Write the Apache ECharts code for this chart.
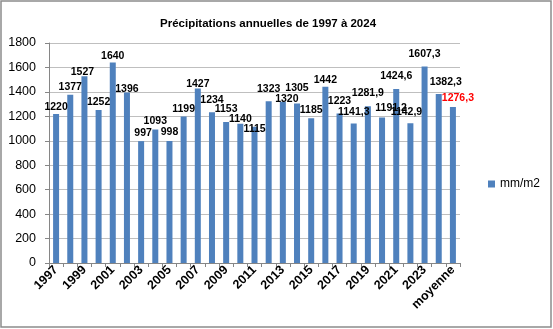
<!DOCTYPE html>
<html>
<head>
<meta charset="utf-8">
<script src="https://cdn.jsdelivr.net/npm/echarts@6/dist/echarts.min.js"></script>
<style>html,body{margin:0;padding:0;background:#fff}#c{width:553px;height:329px}</style>
</head>
<body>
<div id="c"></div>
<script>
var categories = ['1997','1998','1999','2000','2001','2002','2003','2004','2005','2006','2007','2008','2009','2010','2011','2012','2013','2014','2015','2016','2017','2018','2019','2020','2021','2022','2023','2024','moyenne'];
var values = [1220,1377,1527,1252,1640,1396,997,1093,998,1199,1427,1234,1153,1140,1115,1323,1320,1305,1185,1442,1223,1141.3,1281.9,1191.2,1424.6,1142.9,1607.3,1382.3,1276.3];
var yTicks = [0,200,400,600,800,1000,1200,1400,1600,1800];
var seriesName = 'mm/m2';
var titleText = 'Précipitations annuelles de 1997 à 2024';
// label placement tweaks (styling only)
var labelDx = [0,0,-2,0,0,0,2,0,0,0,0,0,0,0,0,0,4,0,0,0,0,0,0,9,0,-4,0,7,5];
var labelDy = [-6,-7,-4,-7,-6,-3,-8,-8,-8,-7,-4,-12,-12,-4,3,-12,-2,-15,-8,-6,-12,-11,-13,-9,-12,-11,-12,-11,-8];

var chart = echarts.init(document.getElementById('c'));
var data = values.map(function(v, i){
  return {
    value: v,
    label: {
      offset: [labelDx[i], labelDy[i] + 5],
      color: categories[i] === 'moyenne' ? '#FF0000' : '#000'
    }
  };
});
chart.setOption({
  animation: false,
  title: {
    text: titleText, left: 155, top: 13,
    textStyle: {fontFamily: 'Liberation Sans', fontWeight: 'bold', fontSize: 11.5, color: '#000'}
  },
  legend: {
    data: [seriesName], left: 483, top: 173, itemWidth: 7, itemHeight: 7, icon: 'rect',
    textStyle: {fontFamily: 'Liberation Sans', fontSize: 12, color: '#000'}
  },
  grid: {left: 49, right: 93, top: 43, bottom: 66},
  xAxis: {
    type: 'category', data: categories, boundaryGap: true,
    axisLine: {lineStyle: {color: '#868686'}},
    axisTick: {show: true, interval: 0, length: 4, lineStyle: {color: '#868686'}},
    axisLabel: {interval: 1, rotate: 45, fontFamily: 'Liberation Sans', fontWeight: 'bold', fontSize: 12.5, color: '#000', margin: 5}
  },
  yAxis: {
    type: 'value', min: yTicks[0], max: yTicks[yTicks.length-1], interval: yTicks[1]-yTicks[0],
    axisLine: {show: true, lineStyle: {color: '#868686'}},
    axisTick: {show: true, length: 4, lineStyle: {color: '#868686'}},
    axisLabel: {fontFamily: 'Liberation Sans', fontSize: 12.5, color: '#000', margin: 13,
      formatter: function(v){ return String(v); }},
    splitLine: {lineStyle: {color: '#BFBFBF'}}
  },
  series: [{
    name: seriesName, type: 'bar', data: data, barWidth: 6,
    itemStyle: {color: '#4F81BD'},
    label: {
      show: true, position: 'top', distance: 0,
      fontFamily: 'Liberation Sans', fontWeight: 'bold', fontSize: 10.5,
      formatter: function(p){ return String(p.value).replace('.', ','); }
    }
  }],
  graphic: [{
    type: 'rect', silent: true, z: 100,
    shape: {x: 1, y: 1, width: 550, height: 326},
    style: {fill: null, stroke: '#8C8C8C', lineWidth: 1.5}
  }]
});
</script>
</body>
</html>
